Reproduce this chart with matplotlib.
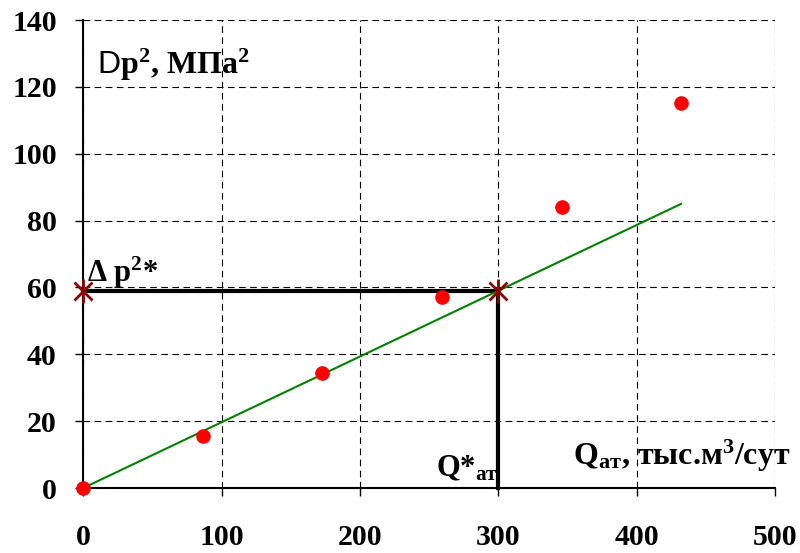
import matplotlib
matplotlib.use("Agg")
import matplotlib.pyplot as plt

plt.rcParams['font.family'] = ['Liberation Serif', 'DejaVu Serif']
plt.rcParams['font.weight'] = 'bold'
plt.rcParams['mathtext.fontset'] = 'custom'
plt.rcParams['mathtext.rm'] = 'Liberation Serif:bold'
plt.rcParams['mathtext.bf'] = 'Liberation Serif:bold'
plt.rcParams['mathtext.it'] = 'Liberation Serif:bold'
plt.rcParams['mathtext.sf'] = 'Liberation Sans:regular'

# data
q_points = [0, 86.4, 172.8, 259.2, 345.6, 432]
dp2_points = [0, 15.5, 34.5, 57.2, 84.2, 115.3]
fit_x = [0, 432]
fit_y = [0, 85.0]
q_star = 300
dp2_star = 59.0
x_ticks = [0, 100, 200, 300, 400, 500]
y_ticks = [0, 20, 40, 60, 80, 100, 120, 140]

fig = plt.figure(figsize=(8, 5.53), dpi=100)
ax = fig.add_axes([0.104, 0.1175, 0.865, 0.8463])

ax.set_xlim(0, 500)
ax.set_ylim(0, 140)
ax.set_xticks(x_ticks)
ax.set_yticks(y_ticks)
ax.grid(True, color='black', linestyle=(0, (6, 4)), linewidth=0.8)
ax.set_axisbelow(True)
for s in ['top', 'right']:
    ax.spines[s].set_visible(False)
for s in ['left', 'bottom']:
    ax.spines[s].set_linewidth(1.5)
ax.tick_params(axis='x', direction='out', length=6, width=1, pad=20, labelsize=21.5)
ax.tick_params(axis='y', direction='out', length=6, width=1, pad=13, labelsize=21.5)
for lab in ax.get_xticklabels() + ax.get_yticklabels():
    lab.set_fontweight('bold')

# helper black lines
ax.plot([0, q_star], [dp2_star, dp2_star], color='black', lw=3, zorder=3, clip_on=False)
ax.plot([q_star, q_star], [dp2_star, 0], color='black', lw=3, zorder=3, clip_on=False)

# fit line
ax.plot(fit_x, fit_y, color='#008000', lw=1.5, zorder=4)

# data points
ax.plot(q_points, dp2_points, linestyle='none', marker='o', color='red',
        markersize=9.5, zorder=5, clip_on=False)

# star markers
for xs in [0, q_star]:
    ax.plot([xs], [dp2_star], linestyle='none', marker='x', color='#8B0000',
            markersize=13, markeredgewidth=2, zorder=6, clip_on=False)
    ax.plot([xs], [dp2_star], linestyle='none', marker='|', color='#8B0000',
            markersize=17, markeredgewidth=2, zorder=6, clip_on=False)

ax.text(10, 124, r'$\mathsf{D}$p$^{2}$, МПа$^{2}$', fontsize=23, fontweight='bold',
        va='baseline', ha='left')
ax.text(3, 61.5, r'Δ p$^{2}$*', fontsize=22, fontweight='bold',
        va='baseline', ha='left')
ax.text(255, 3.5, r'Q*$_{\mathrm{ат}}$', fontsize=22, fontweight='bold',
        va='baseline', ha='left')
ax.text(354, 7.0, r'Q$_{\mathrm{ат}}$, тыс.м$^{3}$/сут', fontsize=23, fontweight='bold',
        va='baseline', ha='left')

fig.savefig('out.png', dpi=100)
